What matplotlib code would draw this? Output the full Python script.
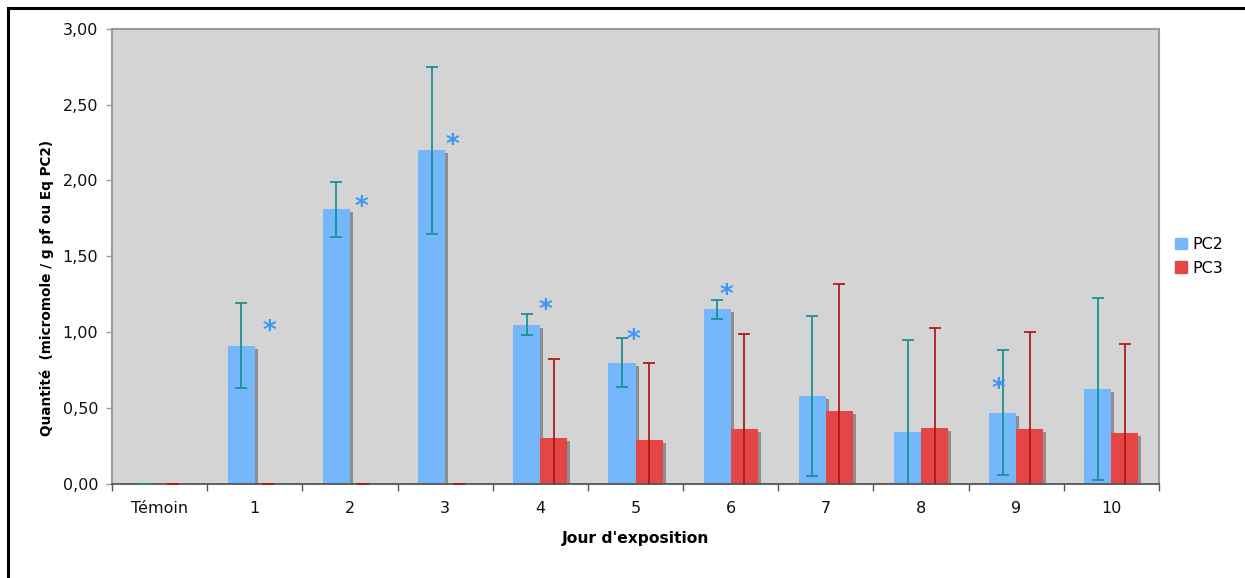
import matplotlib
matplotlib.use("Agg")
import matplotlib.pyplot as plt
import matplotlib.transforms as mtransforms
from matplotlib.lines import Line2D
from matplotlib.patches import Patch
import numpy as np

categories = ["Témoin", "1", "2", "3", "4", "5", "6", "7", "8", "9", "10"]
pc2 = [0.0, 0.91, 1.81, 2.20, 1.05, 0.80, 1.15, 0.58, 0.345, 0.47, 0.625]
pc2_err = [0.0, 0.28, 0.18, 0.55, 0.07, 0.163, 0.06, 0.525, 0.605, 0.41, 0.60]
pc3 = [0.0, 0.0, 0.0, 0.0, 0.30, 0.29, 0.36, 0.48, 0.37, 0.363, 0.334]
pc3_err = [0.0, 0.0, 0.0, 0.0, 0.525, 0.51, 0.63, 0.84, 0.655, 0.64, 0.59]
# significance stars: (category index, x offset in category units, y value)
star_pos = [(1, 0.15, 1.0), (2, 0.12, 1.82), (3, 0.08, 2.23), (4, 0.05, 1.14),
            (5, -0.02, 0.94), (6, -0.05, 1.24), (9, -0.19, 0.62)]

W, H = 1245, 578
fig = plt.figure(figsize=(W / 100, H / 100), dpi=100)
ax = fig.add_axes([112 / W, 1 - 484 / H, (1159 - 112) / W, (484 - 28.7) / H])
ax.set_facecolor("#d4d4d4")

c_pc2 = "#74b7fb"
c_pc3 = "#e54545"
c_e2 = "#158f8f"
c_e3 = "#b0150f"
c_shadow = "#8e8e8e"

x = np.arange(len(categories))
bw = 0.284

shadow_tr = ax.transData + mtransforms.ScaledTranslation(3 / 100, -3 / 100, fig.dpi_scale_trans)
ax.bar(x - bw / 2, pc2, bw, color=c_shadow, transform=shadow_tr, zorder=1)
ax.bar(x + bw / 2, pc3, bw, color=c_shadow, transform=shadow_tr, zorder=1)
ax.bar(x - bw / 2, pc2, bw, color=c_pc2, zorder=2)
ax.bar(x + bw / 2, pc3, bw, color=c_pc3, zorder=2)

ax.errorbar(x - bw / 2, pc2, yerr=pc2_err, fmt="none", ecolor=c_e2, elinewidth=1.25,
            capsize=4, capthick=1.25, zorder=3)
ax.errorbar(x + bw / 2, pc3, yerr=pc3_err, fmt="none", ecolor=c_e3, elinewidth=1.25,
            capsize=4, capthick=1.25, zorder=3)

for i, dx, yv in star_pos:
    ax.text(i + dx, yv, "*", color="#3c96f5", fontsize=19, fontweight="bold",
            ha="center", va="center", zorder=4)

ax.set_xlim(-0.5, 10.5)
ax.set_ylim(0, 3.0)
ax.set_yticks(np.arange(0, 3.01, 0.5))
ax.yaxis.set_major_formatter(matplotlib.ticker.FuncFormatter(lambda v, p: f"{v:.2f}".replace(".", ",")))
ax.set_xticks(x)
ax.set_xticklabels(categories)
ax.set_xticks(np.arange(-0.5, 10.6, 1.0), minor=True)
ax.tick_params(axis="x", which="major", length=0, pad=12.5, labelsize=11.5, colors="#111111")
ax.tick_params(axis="x", which="minor", length=5, width=1, color="#555555", direction="out")
ax.tick_params(axis="y", which="major", length=4, width=1, color="#999999", pad=6,
               labelsize=11.5, labelcolor="#111111")

for s in ["left", "top", "right"]:
    ax.spines[s].set_color("#9a9a9a")
    ax.spines[s].set_linewidth(1.5)
ax.spines["bottom"].set_color("#555555")
ax.spines["bottom"].set_linewidth(1.3)

ax.set_xlabel("Jour d'exposition", fontsize=11.2, fontweight="bold", labelpad=10.5)
ax.set_ylabel("Quantité  (micromole / g pf ou Eq PC2)", fontsize=9.8, fontweight="bold")
ax.yaxis.set_label_coords((54 - 112) / (1159 - 112), (484 - 288) / (484 - 28.7))

handles = [Patch(color=c_pc2, label="PC2"), Patch(color=c_pc3, label="PC3")]
fig.legend(handles=handles, loc="center left", bbox_to_anchor=(1175 / W, 1 - 256.5 / H),
           frameon=False, fontsize=11.5, handlelength=0.75, handleheight=0.75,
           handletextpad=0.35, labelspacing=0.55, borderaxespad=0, borderpad=0)

# outer frame
fig.add_artist(Line2D([7.5 / W, 1.0], [1 - 7.5 / H, 1 - 7.5 / H], color="black", lw=2.2,
                      transform=fig.transFigure))
fig.add_artist(Line2D([7.5 / W, 7.5 / W], [0.0, 1 - 7.5 / H], color="black", lw=2.2,
                      transform=fig.transFigure))

fig.savefig("out.png", dpi=100)
